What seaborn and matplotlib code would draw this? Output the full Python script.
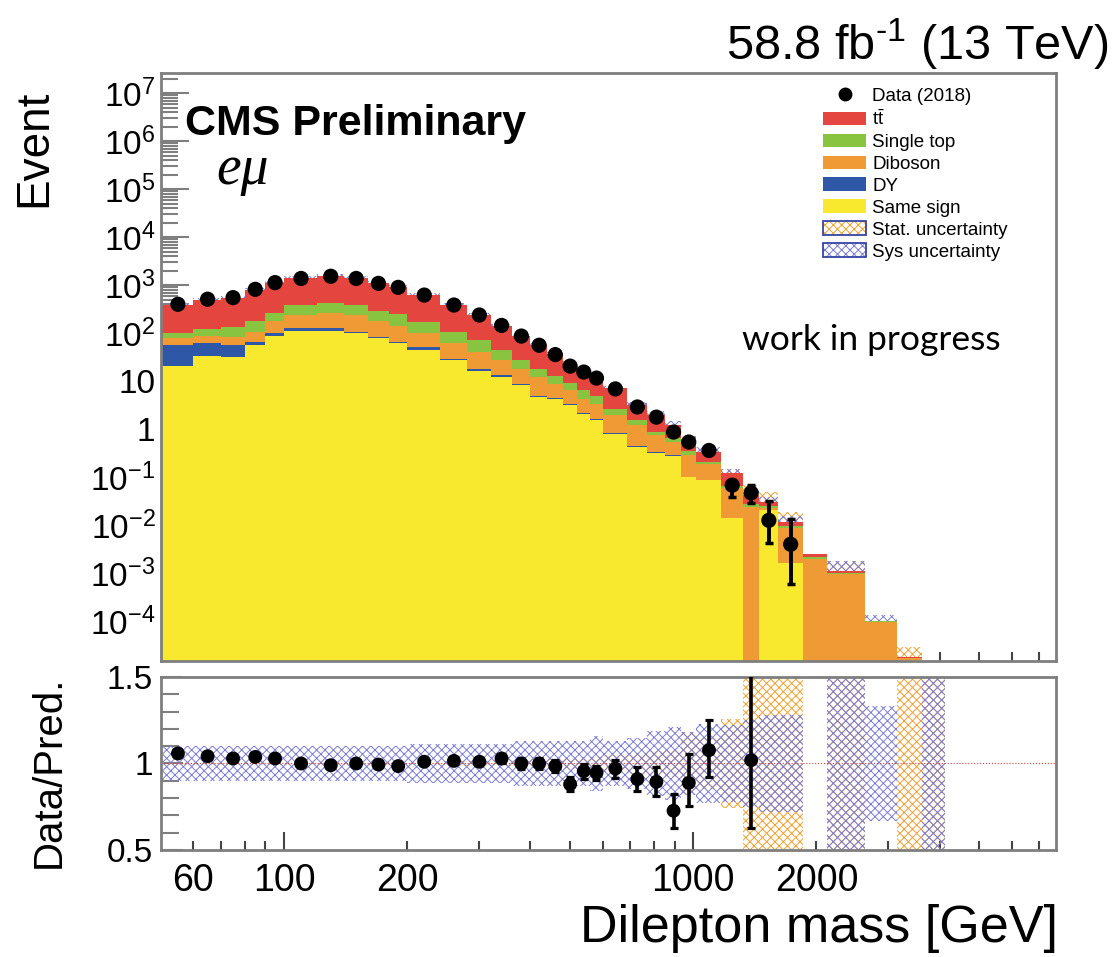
import numpy as np
import matplotlib
matplotlib.use("Agg")
import matplotlib.pyplot as plt
import matplotlib.ticker as mticker
from matplotlib.patches import Patch
from matplotlib.lines import Line2D
import seaborn as sns

sns.set_theme(style="ticks")
plt.rcParams["font.family"] = ["Liberation Sans", "DejaVu Sans"]
plt.rcParams["mathtext.fontset"] = "custom"
plt.rcParams["mathtext.rm"] = "Liberation Sans"
plt.rcParams["mathtext.it"] = "Liberation Sans:italic"
plt.rcParams["mathtext.bf"] = "Liberation Sans:bold"
plt.rcParams["hatch.linewidth"] = 0.7
plt.rcParams["text.color"] = "black"
plt.rcParams["xtick.labelcolor"] = "black"
plt.rcParams["ytick.labelcolor"] = "black"

# binning (GeV)
edges = [50, 60, 70, 80, 90, 100, 120, 140, 160, 180, 200, 240, 280, 320, 360, 400,
         440, 480, 520, 560, 600, 690, 770, 855, 935, 1015, 1170, 1320, 1450, 1610,
         1850, 2120, 2630, 3150, 3630, 4120]

# expected events per process
same_sign = [21, 33, 32, 56, 87, 112, 112, 100, 78, 62, 45, 27.5, 16.2, 12.3, 8.3, 4.6,
             4.2, 3.2, 2.1, 1.55, 0.81, 0.43, 0.32, 0.28, 0.10, 0.087, 0.014, 0, 0.0204,
             0.0016, 0, 0, 0, 0, 0]
dy = [35, 29, 25, 10, 13, 14, 14, 7, 5.6, 4.4, 5.4, 2.0, 2.0, 1.0, 0.6, 0.33, 0.2, 0.15,
      0.1, 0.07, 0.02, 0.01, 0.008, 0.006, 0.003, 0.002, 0.0004, 0, 0.0005, 0.00004,
      0, 0, 0, 0, 0]
diboson = [23, 25, 27, 41, 82, 111, 131, 130, 99, 75, 50, 33.6, 22.5, 14.2, 9.3, 7.4,
           4.5, 3.15, 2.1, 1.8, 1.12, 0.77, 0.43, 0.26, 0.18, 0.097, 0.044, 0.024,
           0.0015, 0.0071, 0.0020, 0.00095, 9.8e-5, 1.7e-5, 5e-6]
single_top = [21, 33, 50, 75, 81, 143, 170, 143, 113, 110, 74, 44, 30, 17.2, 9.3, 5.9,
              3.7, 2.8, 2.1, 1.5, 0.74, 0.34, 0.13, 0.10, 0.075, 0.023, 0.0057, 0.0035,
              0.0027, 0.0009, 0.00015, 0.00005, 1e-6, 0, 0]
ttbar = [280, 370, 404, 612, 833, 1000, 1122, 1000, 801, 661, 443, 273, 166, 96, 59.6,
         38, 23.7, 14.2, 9.8, 7.4, 4.4, 1.6, 1.12, 0.56, 0.25, 0.13, 0.056, 0.0147,
         0.0058, 0.0022, 0.0003, 0.00012, 3e-6, 1e-6, 0]

# relative uncertainties of the prediction
stat_unc = [0.01, 0.01, 0.01, 0.01, 0.01, 0.01, 0.01, 0.01, 0.01, 0.01, 0.01, 0.012,
            0.015, 0.02, 0.02, 0.025, 0.03, 0.03, 0.035, 0.04, 0.05, 0.06, 0.07, 0.08,
            0.18, 0.15, 0.26, 0.6, 0.6, 0.6, 0, 0.6, 0, 0.6, 0.6]
sys_unc = [0.10, 0.10, 0.10, 0.10, 0.10, 0.10, 0.10, 0.10, 0.10, 0.10, 0.11, 0.11, 0.11,
           0.11, 0.13, 0.13, 0.13, 0.13, 0.13, 0.16, 0.13, 0.15, 0.19, 0.21, 0.18, 0.23,
           0.22, 0.25, 0.28, 0.28, 0, 0.6, 0.33, 0, 0.6]

# data (2018)
data = [400, 510, 550, 820, 1130, 1380, 1535, 1380, 1090, 900, 622, 386, 239, 145, 87,
        56, 35.8, 20.6, 15.5, 11.6, 6.9, 2.9, 1.78, 0.87, 0.54, 0.36, 0.068, 0.047,
        0.0126, 0.004]
data_lo = [8, 9, 9, 11, 13, 14, 15, 14, 13, 12, 10, 8, 6, 5, 4, 3, 2.4, 1.8, 1.6, 1.3,
           1.0, 0.19, 0.15, 0.087, 0.07, 0.055, 0.030, 0.018, 0.0084, 0.0034]
data_hi = [8, 9, 9, 11, 13, 14, 15, 14, 13, 12, 10, 8, 6, 5, 4, 3, 2.4, 1.8, 1.6, 1.3,
           1.0, 0.19, 0.15, 0.087, 0.09, 0.064, 0.019, 0.021, 0.020, 0.0093]

# data / prediction
ratio = [1.058, 1.042, 1.029, 1.038, 1.029, 1.0, 0.99, 1.0, 0.994, 0.985, 1.01, 1.015,
         1.01, 1.029, 1.0, 1.0, 0.985, 0.88, 0.956, 0.946, 0.971, 0.91, 0.894, 0.727,
         0.888, 1.077, np.nan, 1.019, np.nan, np.nan]
ratio_lo = [0.01, 0.01, 0.01, 0.01, 0.01, 0.01, 0.01, 0.01, 0.01, 0.012, 0.014, 0.016,
            0.02, 0.025, 0.03, 0.03, 0.035, 0.04, 0.043, 0.04, 0.052, 0.067, 0.083,
            0.102, 0.134, 0.154, 0, 0.394, 0, 0]
ratio_hi = [0.01, 0.01, 0.01, 0.01, 0.01, 0.01, 0.01, 0.01, 0.01, 0.012, 0.014, 0.016,
            0.02, 0.025, 0.03, 0.03, 0.035, 0.04, 0.043, 0.04, 0.052, 0.067, 0.083,
            0.096, 0.166, 0.177, 0, 0.49, 0, 0]

c_tt, c_st, c_vv, c_dy, c_ss = "#e4463f", "#88c43f", "#ef9a34", "#2f57a8", "#f8e92f"
c_stat, c_sys = "#f0a030", "#7c7cd6"
frame = "#7f7f7f"

edges = np.array(edges, dtype=float)
widths = np.diff(edges)
centers = 0.5 * (edges[:-1] + edges[1:])
nd = len(data)

fig = plt.figure(figsize=(11.18, 9.57), dpi=100)
ax = fig.add_axes([0.144, 0.3093, 0.8005, 0.6144])
rax = fig.add_axes([0.144, 0.1118, 0.8005, 0.1808])

# stacked prediction
bottom = np.full(len(widths), 1e-8)
for vals, col in [(same_sign, c_ss), (dy, c_dy), (diboson, c_vv),
                  (single_top, c_st), (ttbar, c_tt)]:
    top = bottom + np.array(vals)
    ax.stairs(top, edges, baseline=bottom, fill=True, color=col, lw=0, zorder=2)
    bottom = top
total = bottom

# uncertainty bands
for unc, col in [(stat_unc, c_stat), (sys_unc, c_sys)]:
    u = np.array(unc)
    ax.bar(edges[:-1], total * 2 * u, bottom=total * (1 - u), width=widths, align="edge",
           facecolor="none", edgecolor=col, hatch="xxxx", lw=0, zorder=1)
    rax.bar(edges[:-1], 2 * u, bottom=1 - u, width=widths, align="edge",
            facecolor="none", edgecolor=col, hatch="xxxx", lw=0, zorder=1)

# data
ax.errorbar(centers[:nd], data, yerr=[data_lo, data_hi], fmt="none", ecolor="black",
            elinewidth=2.8, capsize=3, capthick=2.5, zorder=4)
sns.scatterplot(x=centers[:nd], y=data, ax=ax, color="black", s=120, edgecolor="none",
                zorder=5, legend=False)

rax.axhline(1, color="#d04040", lw=0.8, ls=":", zorder=2)
rax.errorbar(centers[:nd], ratio, yerr=[ratio_lo, ratio_hi], fmt="none", ecolor="black",
             elinewidth=2.6, capsize=3, capthick=2.3, zorder=4)
sns.scatterplot(x=centers[:nd], y=ratio, ax=rax, color="black", s=100, edgecolor="none",
                zorder=5, legend=False)

# axes
for a in (ax, rax):
    a.set_xscale("log")
    a.set_xlim(50, 7700)
    for s in a.spines.values():
        s.set_color(frame)
        s.set_linewidth(2)
    a.xaxis.set_major_locator(mticker.FixedLocator([100, 1000]))
    a.xaxis.set_minor_locator(mticker.FixedLocator(
        [60, 70, 80, 90, 200, 300, 400, 500, 600, 700, 800, 900,
         2000, 3000, 4000, 5000, 6000, 7000]))
    a.tick_params(axis="x", which="major", direction="in", length=13, width=1.5,
                  color="#444444", top=False)
    a.tick_params(axis="x", which="minor", direction="in", length=6.5, width=1.5,
                  color="#444444", top=False)
    a.set_xlabel("")
    a.set_ylabel("")

ax.tick_params(axis="x", which="both", labelbottom=False)
rax.xaxis.set_major_formatter(mticker.FixedFormatter(["100", "1000"]))
rax.xaxis.set_minor_formatter(mticker.FuncFormatter(
    lambda v, p: str(int(round(v))) if int(round(v)) in (60, 200, 2000) else ""))
rax.tick_params(axis="x", which="both", labelsize=27, pad=9)

ax.set_yscale("log")
ax.set_ylim(10 ** -4.83, 10 ** 7.42)
ypow = list(range(-4, 8))
ax.yaxis.set_major_locator(mticker.FixedLocator([10.0 ** p for p in ypow]))
ax.yaxis.set_major_formatter(mticker.FixedFormatter(
    ["1" if p == 0 else "10" if p == 1 else r"$10^{%d}$" % p for p in ypow]))
ax.yaxis.set_minor_locator(mticker.LogLocator(base=10, subs=np.arange(2, 10), numticks=30))
ax.yaxis.set_minor_formatter(mticker.NullFormatter())
ax.tick_params(axis="y", which="major", direction="in", length=20, width=1.5,
               color=frame, labelsize=24, pad=4, right=False)
ax.tick_params(axis="y", which="minor", direction="in", length=12, width=1.5,
               color=frame, right=False)

rax.set_ylim(0.5, 1.5)
rax.yaxis.set_major_locator(mticker.FixedLocator([0.5, 1.0, 1.5]))
rax.yaxis.set_major_formatter(mticker.FixedFormatter(["0.5", "1", "1.5"]))
rax.yaxis.set_minor_locator(mticker.MultipleLocator(0.1))
rax.tick_params(axis="y", which="major", direction="in", length=16, width=1.5,
                color=frame, labelsize=24, pad=6, right=False)
rax.tick_params(axis="y", which="minor", direction="in", length=13, width=1.5,
                color=frame, right=False)

# texts
fig.text(0.991, 0.937, r"58.8 fb$^{\text{-1}}$ (13 TeV)", ha="right", va="baseline",
         fontsize=35)
fig.text(0.031, 0.845, "Event", rotation=90, ha="center", va="center", fontsize=33)
fig.text(0.044, 0.194, "Data/Pred.", rotation=90, ha="center", va="center", fontsize=29)
fig.text(0.946, 0.030, "Dilepton mass [GeV]", ha="right", va="center", fontsize=37.5)
ax.text(0.027, 0.8946, "CMS Preliminary", transform=ax.transAxes, fontsize=31,
        fontweight="bold", va="baseline")
ax.text(0.062, 0.812, "eμ", transform=ax.transAxes, fontsize=40, style="italic",
        fontfamily="Liberation Serif", va="baseline")
ax.text(0.649, 0.529, "work in progress", transform=ax.transAxes, fontsize=25.5,
        fontfamily="Lato", va="baseline")

# legend
border = "#3545a5"
handles = [
    Line2D([], [], marker="o", color="black", ls="none", markersize=9),
    Patch(facecolor=c_tt, lw=0),
    Patch(facecolor=c_st, lw=0),
    Patch(facecolor=c_vv, lw=0),
    Patch(facecolor=c_dy, lw=0),
    Patch(facecolor=c_ss, lw=0),
    (Patch(facecolor="white", edgecolor=c_stat, hatch="xxxx", lw=0),
     Patch(facecolor="none", edgecolor=border, lw=1.3)),
    (Patch(facecolor="white", edgecolor=c_sys, hatch="xxxx", lw=0),
     Patch(facecolor="none", edgecolor=border, lw=1.3)),
]
labels = ["Data (2018)", r"t$\bar{\mathrm{t}}$", "Single top", "Diboson", "DY",
          "Same sign", "Stat. uncertainty", "Sys uncertainty"]
ax.legend(handles, labels, loc="upper left", bbox_to_anchor=(0.7397, 0.975),
          frameon=False, fontsize=13.5, borderpad=0, borderaxespad=0,
          handlelength=2.3, handleheight=0.75, handletextpad=0.32, labelspacing=0.24)

fig.savefig("out.png", dpi=100)
